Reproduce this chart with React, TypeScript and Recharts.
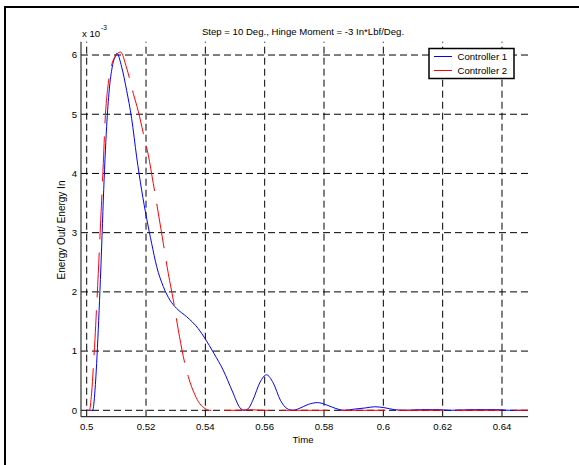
import React from 'react';
import { LineChart, Line, XAxis, YAxis, ReferenceLine } from 'recharts';

// values in units of 1e-3 (axis shows "x 10^-3")
const blueTime = [
  0.5, 0.502, 0.5028, 0.50335, 0.5039, 0.50447, 0.50504, 0.5056, 0.50616, 0.50672, 0.5076, 0.50862, 0.50986,
  0.51015, 0.51178, 0.51347, 0.51515, 0.51684, 0.51852, 0.52021, 0.52189, 0.52358, 0.52582, 0.52807, 0.53032,
  0.5337, 0.5376, 0.5398, 0.5429, 0.546, 0.5492, 0.5517, 0.553, 0.5545, 0.556, 0.5585, 0.5606, 0.5629, 0.5653,
  0.5675, 0.5695, 0.5716, 0.5747, 0.5778, 0.5809, 0.584, 0.5871, 0.5902, 0.594, 0.5971, 0.6002, 0.6039, 0.6077,
  0.6125, 0.619, 0.6225, 0.63, 0.639, 0.6425, 0.6487,
];
const blueEnergy = [
  0, 0, 0.34, 0.79, 1.36, 2.03, 2.76, 3.55, 4.23, 4.79, 5.41, 5.8, 6.0,
  6.03, 5.8, 5.4, 4.93, 4.28, 3.72, 3.24, 2.82, 2.43, 2.09, 1.86, 1.72,
  1.58, 1.38, 1.22, 0.96, 0.68, 0.31, 0.04, 0.0, 0.03, 0.17, 0.48, 0.6, 0.46, 0.17,
  0.03, 0.0, 0.03, 0.1, 0.13, 0.09, 0.03, 0.0, 0.02, 0.04, 0.06, 0.045, 0.01, 0.0,
  0.01, 0.01, 0.0, 0.01, 0.01, 0.0, 0.0,
];

const redTime = [
  0.5, 0.5009, 0.50166, 0.50222, 0.50278, 0.50335, 0.5039, 0.50447, 0.50504, 0.5056, 0.50616, 0.50728, 0.50841,
  0.5095, 0.5114, 0.51347, 0.51571, 0.51739, 0.51908, 0.52077, 0.52245, 0.52414, 0.52582, 0.52751, 0.5292,
  0.53088, 0.53256, 0.53424, 0.53649, 0.538, 0.5399, 0.5415, 0.55, 0.555, 0.56, 0.6, 0.6487,
];
const redEnergy = [
  0, 0, 0.29, 0.71, 1.19, 1.75, 2.31, 2.93, 3.55, 4.17, 4.85, 5.52, 5.83,
  5.97, 6.05, 5.78, 5.35, 5.05, 4.68, 4.31, 3.83, 3.33, 2.82, 2.31, 1.86,
  1.36, 0.91, 0.57, 0.26, 0.12, 0.03, 0.0, 0.0, 0.01, 0.0, 0.0, 0.0,
];

const xTicks = [0.5, 0.52, 0.54, 0.56, 0.58, 0.6, 0.62, 0.64];
const yTicks = [0, 1, 2, 3, 4, 5, 6];
const seriesNames = ['Controller 1', 'Controller 2'];
const seriesColors = ['#0000ff', '#ff0000'];

const FONT = '"Liberation Sans", Arial, sans-serif';

const blueData = blueTime.map((t, i) => ({ t, v: blueEnergy[i] }));
const redData = redTime.map((t, i) => ({ t, v: redEnergy[i] }));

export default function App() {
  return (
    <div
      style={{
        position: 'absolute',
        left: 0,
        top: 0,
        width: 579,
        height: 465,
        overflow: 'hidden',
        background: '#fff',
      }}
    >
      <div
        style={{
          position: 'absolute',
          left: 4,
          top: 6,
          width: 620,
          height: 520,
          borderLeft: '2px solid #000',
          borderTop: '2px solid #000',
        }}
      />
      <div style={{ position: 'absolute', left: 0, top: 0 }}>
        <LineChart
          width={579}
          height={465}
          margin={{ top: 41.7, right: 51, bottom: 18.3, left: 0 }}
        >
          <XAxis
            type="number"
            dataKey="t"
            domain={[0.49808, 0.64877]}
            allowDataOverflow
            ticks={xTicks}
            tickFormatter={(v: number) => String(+v.toFixed(2))}
            height={30}
            tickLine={false}
            tickSize={3}
            tickMargin={3}
            axisLine={{ stroke: '#333', strokeWidth: 1.2 }}
            tick={{ fill: '#000', fontSize: 9.6, fontFamily: FONT }}
          />
          <YAxis
            type="number"
            domain={[-0.108, 6.225]}
            allowDataOverflow
            ticks={yTicks}
            width={81}
            tickLine={false}
            tickSize={3}
            tickMargin={1}
            axisLine={{ stroke: '#333', strokeWidth: 1.2 }}
            tick={{ fill: '#000', fontSize: 9.6, fontFamily: FONT }}
          />
          {xTicks.map((t) => (
            <ReferenceLine key={`vx${t}`} x={t} stroke="#000" strokeDasharray="7 4" strokeWidth={1} />
          ))}
          {yTicks.map((v) => (
            <ReferenceLine key={`hy${v}`} y={v} stroke="#000" strokeDasharray="7 4" strokeWidth={1} />
          ))}
          <Line
            data={blueData}
            dataKey="v"
            name={seriesNames[0]}
            type="monotone"
            stroke={seriesColors[0]}
            strokeWidth={1}
            dot={false}
            isAnimationActive={false}
          />
          <Line
            data={redData}
            dataKey="v"
            name={seriesNames[1]}
            type="monotone"
            stroke={seriesColors[1]}
            strokeWidth={1}
            strokeDasharray="45 13"
            dot={false}
            isAnimationActive={false}
          />
          <text x={303} y={35} textAnchor="middle" fontSize={9.6} fontFamily={FONT} fill="#000">
            Step = 10 Deg., Hinge Moment = -3 In*Lbf/Deg.
          </text>
          <text x={82} y={36.5} fontSize={9.6} fontFamily={FONT} fill="#000">
            x 10
          </text>
          <text x={101} y={29.5} fontSize={6.5} fontFamily={FONT} fill="#000">
            -3
          </text>
          <text x={303} y={442.7} textAnchor="middle" fontSize={9.6} fontFamily={FONT} fill="#000">
            Time
          </text>
          <text
            x={64.5}
            y={230}
            textAnchor="middle"
            fontSize={10}
            fontFamily={FONT}
            fill="#000"
            transform="rotate(-90 64.5 230)"
          >
            Energy Out/ Energy In
          </text>
        </LineChart>
      </div>
      {/* legend box drawn on top of the grid */}
      <svg
        width={579}
        height={465}
        style={{ position: 'absolute', left: 0, top: 0, pointerEvents: 'none' }}
      >
        <rect x={429} y={48.5} width={85} height={30} fill="#fff" stroke="#000" strokeWidth={1.5} />
        {seriesNames.map((name, i) => (
          <g key={name}>
            <line
              x1={434}
              x2={452}
              y1={56.5 + i * 14}
              y2={56.5 + i * 14}
              stroke={seriesColors[i]}
              strokeWidth={1}
            />
            <text x={457.5} y={60 + i * 14} fontSize={9.6} fontFamily={FONT} fill="#000">
              {name}
            </text>
          </g>
        ))}
      </svg>
    </div>
  );
}
